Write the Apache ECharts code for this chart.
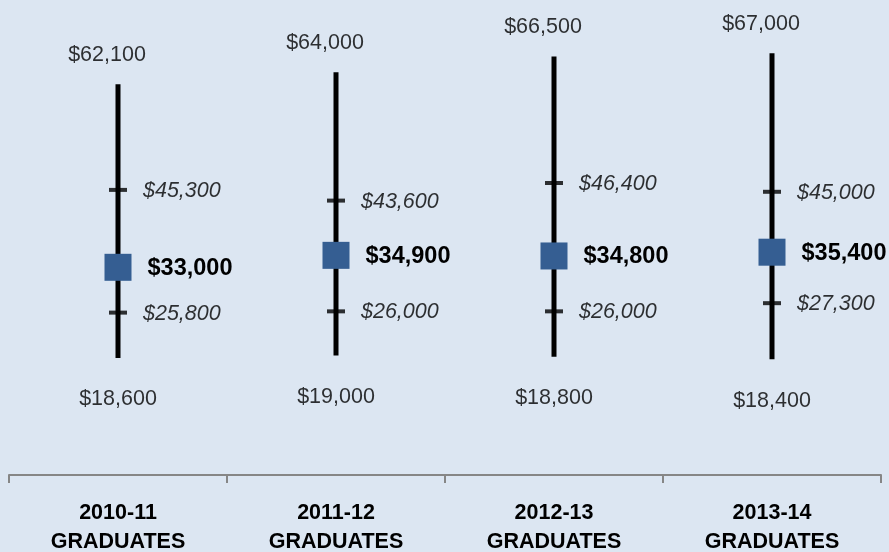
<!DOCTYPE html>
<html><head><meta charset="utf-8">
<script src="https://cdn.jsdelivr.net/npm/echarts@6/dist/echarts.min.js"></script>
<style>html,body{margin:0;padding:0;background:#dce6f2}#c{width:889px;height:552px}</style>
</head><body><div id="c"></div>
<script>
const categories = ['2010-11\nGRADUATES','2011-12\nGRADUATES','2012-13\nGRADUATES','2013-14\nGRADUATES'];
const minValues = [18600, 19000, 18800, 18400];
const q1Values = [25800, 26000, 26000, 27300];
const medianValues = [33000, 34900, 34800, 35400];
const q3Values = [45300, 43600, 46400, 45000];
const maxValues = [62100, 64000, 66500, 67000];

const FONT = "'Liberation Sans Narrow','Arial Narrow','Liberation Sans',Arial,sans-serif";
const fmt = v => '$' + v.toLocaleString('en-US');
const pts = arr => arr.map((v, i) => [i, v]);

const chart = echarts.init(document.getElementById('c'));
chart.setOption({
  backgroundColor: '#dce6f2',
  animation: false,
  grid: { left: 9, right: 8, top: 3, bottom: 72, containLabel: false, outerBoundsMode: 'none' },
  xAxis: {
    type: 'category', data: categories, boundaryGap: true,
    axisLine: { show: true, lineStyle: { color: '#868686', width: 2 } },
    axisTick: { show: true, length: 8, lineStyle: { color: '#868686', width: 2 } },
    axisLabel: { margin: 19, color: '#000', fontFamily: FONT, fontWeight: 'bold', fontSize: 21.5, lineHeight: 29 }
  },
  yAxis: { type: 'value', min: -800, max: 75000, show: false, splitLine: { show: false } },
  series: [
    {
      type: 'custom', name: 'range',
      data: minValues.map((v, i) => [i, v, maxValues[i]]),
      renderItem: (params, api) => {
        const a = api.coord([api.value(0), api.value(1)]);
        const b = api.coord([api.value(0), api.value(2)]);
        return { type: 'line', shape: { x1: a[0], y1: a[1], x2: b[0], y2: b[1] }, style: { stroke: '#000', lineWidth: 5 } };
      },
      z: 1
    },
    {
      type: 'scatter', name: 'max', data: pts(maxValues), symbolSize: 1, itemStyle: { color: 'transparent' },
      label: { show: true, position: 'top', distance: 17, offset: [-11, 0], lineHeight: 24, formatter: p => fmt(p.value[1]), fontFamily: FONT, fontSize: 21.5, color: '#000' }, z: 3
    },
    {
      type: 'scatter', name: 'min', data: pts(minValues), symbolSize: 1, itemStyle: { color: 'transparent' },
      label: { show: true, position: 'bottom', distance: 29, lineHeight: 24, formatter: p => fmt(p.value[1]), fontFamily: FONT, fontSize: 21.5, color: '#000' }, z: 3
    },
    {
      type: 'scatter', name: 'q3', data: pts(q3Values), symbol: 'rect', symbolSize: [18, 4], itemStyle: { color: '#000' },
      label: { show: true, position: 'right', distance: 16, offset: [0, 1], formatter: p => fmt(p.value[1]), fontFamily: FONT, fontStyle: 'italic', fontSize: 21.5, color: '#000' }, z: 3
    },
    {
      type: 'scatter', name: 'q1', data: pts(q1Values), symbol: 'rect', symbolSize: [18, 4], itemStyle: { color: '#000' },
      label: { show: true, position: 'right', distance: 16, offset: [0, 1], formatter: p => fmt(p.value[1]), fontFamily: FONT, fontStyle: 'italic', fontSize: 21.5, color: '#000' }, z: 3
    },
    {
      type: 'scatter', name: 'median', data: pts(medianValues), symbol: 'rect', symbolSize: 27, itemStyle: { color: '#355e92', opacity: 1 },
      label: { show: true, position: 'right', distance: 16, offset: [0, 1], formatter: p => fmt(p.value[1]), fontFamily: FONT, fontWeight: 'bold', fontSize: 23.5, color: '#000' }, z: 4
    }
  ]
});
</script></body></html>
